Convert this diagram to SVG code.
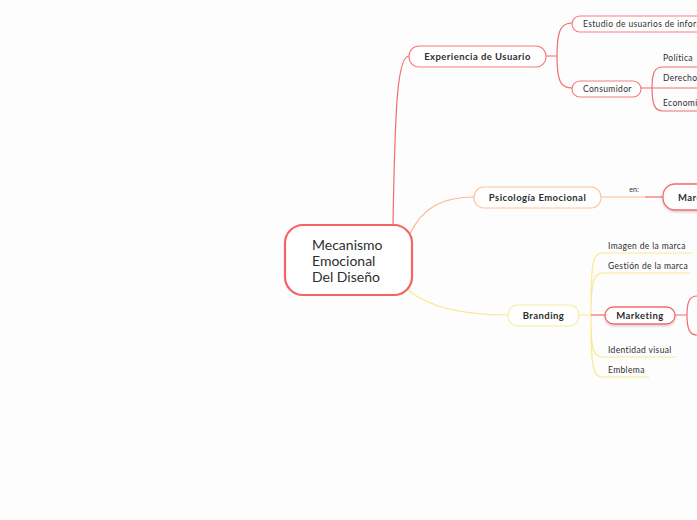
<svg xmlns="http://www.w3.org/2000/svg" width="697" height="520" viewBox="0 0 697 520">
<defs>
<filter id="sh" x="-20%" y="-30%" width="140%" height="170%">
<feDropShadow dx="0" dy="1.5" stdDeviation="1.2" flood-color="#000" flood-opacity="0.18"/>
</filter>
<style>
.t{font-family:Lato,"Noto Sans",sans-serif;fill:#2e2e2e}
.b{font-weight:bold;font-size:9.5px;letter-spacing:0.45px}
.s{font-size:8.5px;letter-spacing:0.35px}
.r{stroke:#f46b6b;fill:none}
.o{stroke:#fdb98e;fill:none}
.y{stroke:#f8ea8f;fill:none}
.nr{fill:#fff;stroke:#f77c7c;stroke-width:1.2}
.no{fill:#fff;stroke:#fdc39f;stroke-width:1.2}
.ny{fill:#fff;stroke:#f8ec9f;stroke-width:1.2}
</style>
</defs>
<rect width="697" height="520" fill="#fdfdfd"/>
<g id="connectors" stroke-width="1.2">
<path class="r" d="M393,225 C395,110 397,56 409,56"/>
<path class="o" d="M410,234 C422,208 442,197 474,197"/>
<path class="y" d="M408,290 C432,310 470,315 508,315"/>
<path class="r" d="M546,56 H557 M557,56 C557,30 561,23 572,23 M557,56 C557,82 561,88 572,88"/>
<path class="r" d="M641,88 H652 M652,88 C652,72 655,67 663,67 H697 M652,88 H697 M652,88 C652,105 655,111 663,111 H697"/>
<path class="o" d="M601,197 H645"/>
<path class="r" d="M645,197 H663"/>
<path class="y" d="M579,315 H591 M591,315 C591,265 592,253 603,253 H692 M591,315 C591,283 593,273 603,273 H690 M591,315 C591,347 592,357 603,357 H676 M591,315 C591,365 592,377 603,377 H649"/>
<path class="r" d="M591,315 H605"/>
<path class="r" d="M675,315 H687 M687,315 C687,301 690,296 697,296 M687,315 C687,330 690,335 697,335"/>
</g>
<g id="root">
<rect x="285" y="225" width="127" height="70" rx="18" fill="#fff" stroke="#f46464" stroke-width="2.2"/>
<text class="t" x="312" y="250" font-size="14">Mecanismo</text>
<text class="t" x="312" y="266" font-size="14">Emocional</text>
<text class="t" x="312" y="282" font-size="14">Del Diseño</text>
</g>
<g id="experiencia">
<rect class="nr" x="409" y="46" width="137" height="21" rx="10"/>
<text class="t b" x="477.5" y="60" text-anchor="middle">Experiencia de Usuario</text>
</g>
<g id="estudio">
<rect class="nr" x="572" y="16" width="140" height="16" rx="8"/>
<text class="t s" x="583" y="27">Estudio de usuarios de información</text>
</g>
<g id="consumidor">
<rect class="nr" x="572" y="81" width="69" height="16" rx="8"/>
<text class="t s" x="583" y="92">Consumidor</text>
</g>
<g id="politica"><text class="t s" x="663" y="61">Política</text></g>
<g id="derecho"><text class="t s" x="663" y="81">Derecho</text></g>
<g id="economia"><text class="t s" x="663" y="106">Economía</text></g>
<g id="psicologia">
<rect class="no" x="474" y="187" width="127" height="21" rx="10"/>
<text class="t b" x="537.5" y="201" text-anchor="middle">Psicología Emocional</text>
</g>
<text class="t" x="634" y="192" font-size="7" text-anchor="middle">en:</text>
<g id="marca">
<rect x="663" y="184" width="70" height="26" rx="12" fill="#fff" stroke="#f46b6b" stroke-width="1.3" filter="url(#sh)"/>
<text class="t b" x="678" y="201">Marca</text>
</g>
<g id="branding">
<rect class="ny" x="508" y="305" width="71" height="21" rx="10"/>
<text class="t b" x="543.5" y="319" text-anchor="middle">Branding</text>
</g>
<g id="imagen"><text class="t s" x="608" y="249">Imagen de la marca</text></g>
<g id="gestion"><text class="t s" x="608" y="269">Gestión de la marca</text></g>
<g id="marketing">
<rect x="605" y="307" width="70" height="17" rx="8.5" fill="#fff" stroke="#f46b6b" stroke-width="1.3" filter="url(#sh)"/>
<text class="t b" x="640" y="319" text-anchor="middle">Marketing</text>
</g>
<g id="identidad"><text class="t s" x="608" y="353">Identidad visual</text></g>
<g id="emblema"><text class="t s" x="608" y="373">Emblema</text></g>
</svg>
